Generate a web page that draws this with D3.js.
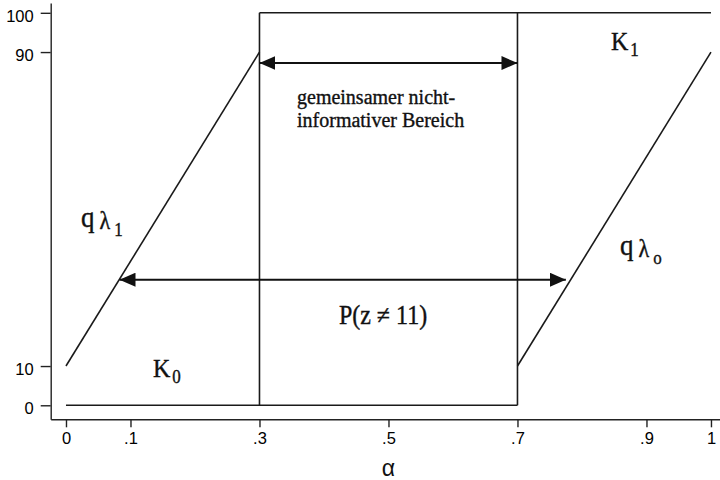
<!DOCTYPE html>
<html>
<head>
<meta charset="utf-8">
<script src="https://cdn.jsdelivr.net/npm/d3@7/dist/d3.min.js"></script>
<style>
  html, body { margin: 0; padding: 0; background: #fff; }
  svg { display: block; }
  .axis text { font-family: Arial, "Liberation Sans", sans-serif; font-size: 16.5px; fill: #000; }
  .axis path, .axis line { stroke: #222; stroke-width: 1.4; }
  .ann { font-family: "Liberation Serif", "Times New Roman", serif; fill: #111; stroke: #111; stroke-width: 0.35; }
</style>
</head>
<body>
<svg id="chart" width="720" height="480"></svg>
<script>
// Axis ticks
const xTicks = [0, 0.1, 0.3, 0.5, 0.7, 0.9, 1];
const xTickLabels = ["0", ".1", ".3", ".5", ".7", ".9", "1"];
const yTicks = [0, 10, 90, 100];
const yTickLabels = ["0", "10", "90", "100"];

// Boundary lines of the regions K0 and K1
const qLambda1 = [[0, 10], [0.3, 90]];
const qLambda0 = [[0.7, 10], [1, 90]];
const lowerEdge = [[0, 0], [0.7, 0]];
const upperEdge = [[0.3, 100], [1, 100]];
const leftWall = [[0.3, 0], [0.3, 100]];
const rightWall = [[0.7, 0], [0.7, 100]];

// Double arrows: [x start, x end, level]
const arrowCommon = [0.3, 0.7, 87.2];
const arrowP = [0.083, 0.775, 32.0];

const svg = d3.select("#chart");

const x = d3.scaleLinear().domain([-0.0237, 1.014]).range([50.7, 720]);
const y = d3.scaleLinear().domain([-3.57, 102.5]).range([419.3, 3]);

// Axes
const xAxis = d3.axisBottom(x)
  .tickValues(xTicks)
  .tickFormat((d, i) => xTickLabels[i])
  .tickSizeInner(8).tickSizeOuter(0).tickPadding(5);
svg.append("g").attr("class", "axis")
  .attr("transform", `translate(0,${y(-3.57)})`)
  .call(xAxis);

const yAxis = d3.axisLeft(y)
  .tickValues(yTicks)
  .tickFormat((d, i) => yTickLabels[i])
  .tickSizeInner(10).tickSizeOuter(0).tickPadding(7);
svg.append("g").attr("class", "axis")
  .attr("transform", `translate(${x(-0.0237)},0)`)
  .call(yAxis)
  .selectAll("text").attr("dy", "0.5em");

svg.append("text")
  .attr("x", x(0.5)).attr("y", 476)
  .attr("text-anchor", "middle")
  .style("font-family", "Arial, 'Liberation Sans', sans-serif")
  .style("font-size", "23px").style("fill", "#111")
  .text("α");

// Boundary lines
const line = d3.line().x(d => x(d[0])).y(d => y(d[1]));
[qLambda1, qLambda0, lowerEdge, upperEdge, leftWall, rightWall].forEach(seg => {
  svg.append("path").attr("d", line(seg))
    .attr("fill", "none").attr("stroke", "#1a1a1a").attr("stroke-width", 1.6);
});

// Arrowheads
const defs = svg.append("defs");
defs.append("marker").attr("id", "head")
  .attr("viewBox", "0 0 16 14").attr("refX", 16).attr("refY", 7)
  .attr("markerWidth", 16).attr("markerHeight", 14)
  .attr("markerUnits", "userSpaceOnUse").attr("orient", "auto-start-reverse")
  .append("path").attr("d", "M0,0 L16,7 L0,14 Z").attr("fill", "#111");

[arrowCommon, arrowP].forEach(a => {
  svg.append("line")
    .attr("x1", x(a[0])).attr("x2", x(a[1]))
    .attr("y1", y(a[2])).attr("y2", y(a[2]))
    .attr("stroke", "#111").attr("stroke-width", 2)
    .attr("marker-start", "url(#head)").attr("marker-end", "url(#head)");
});

// Annotations (serif, slightly tall)
function tallText(px, py, size, sy) {
  return svg.append("g").attr("transform", `translate(${px},${py}) scale(1,${sy})`)
    .append("text").attr("class", "ann").style("font-size", size + "px");
}

tallText(297, 104, 20, 1.0).text("gemeinsamer nicht-");
tallText(297, 126.5, 20, 1.0).text("informativer Bereich");

tallText(383, 324, 24, 1.1).attr("text-anchor", "middle")
  .text("P(z \u2260 11)");

function kLabel(px, py, sub) {
  const t = tallText(px, py, 24, 1.08);
  t.append("tspan").text("K");
  t.append("tspan").attr("dx", 2).attr("dy", 6).style("font-size", "17px").text(sub);
}
kLabel(611, 50, "1");
kLabel(153, 377, "0");

function qLabel(px, py, sub) {
  const t = tallText(px, py, 27, 1.1);
  t.append("tspan").text("q");
  t.append("tspan").attr("dx", 5).attr("dy", 2).style("font-size", "22px").text("λ");
  t.append("tspan").attr("dx", 4).attr("dy", 6).style("font-size", "17px").text(sub);
}
qLabel(81, 227, "1");
qLabel(620, 255, "o");
</script>
</body>
</html>
